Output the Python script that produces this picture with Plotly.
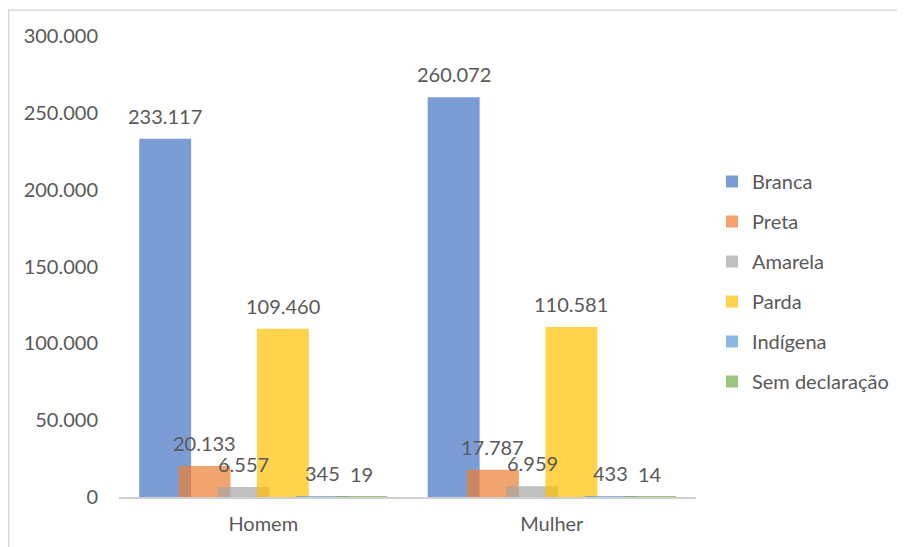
import plotly.graph_objects as go

categories = ["Homem", "Mulher"]
series_names = ["Branca", "Preta", "Amarela", "Parda", "Indígena", "Sem declaração"]
branca = [233117, 260072]
preta = [20133, 17787]
amarela = [6557, 6959]
parda = [109460, 110581]
indigena = [345, 433]
sem_declaracao = [19, 14]
y_ticks = [0, 50000, 100000, 150000, 200000, 250000, 300000]

series_values = [branca, preta, amarela, parda, indigena, sem_declaracao]
colors = ["rgb(68,114,196)", "rgb(237,125,49)", "rgb(165,165,165)",
          "rgb(255,192,0)", "rgb(91,155,213)", "rgb(112,173,71)"]

# page is offset by the 8px body margin
W, H = 897, 539
ml, mt, mb = 111, 28, 50
pw = 578
mr = W - ml - pw
ph = H - mt - mb

bar_w = 0.18
step = 0.136
start = -0.43

FONT = "Lato, 'Open Sans', sans-serif"
TXT = "#595959"

def fmt(v):
    return f"{v:,}".replace(",", ".")

fig = go.Figure()
annotations = []
for i, (name, vals, col) in enumerate(zip(series_names, series_values, colors)):
    off = start + i * step
    fig.add_trace(go.Bar(
        name=name, x=[0, 1], y=vals, offset=off, width=bar_w,
        marker=dict(color=col, line=dict(width=0)), opacity=0.7,
        legendgroup=name, hoverinfo="skip",
    ))
    for j, v in enumerate(vals):
        annotations.append(dict(
            x=j + off + bar_w / 2, y=v, xref="x", yref="y",
            text=fmt(v), showarrow=False, yanchor="bottom", yshift=9,
            font=dict(size=20, color=TXT, family=FONT),
        ))

fig.update_layout(
    width=W, height=H,
    margin=dict(l=ml, r=mr, t=mt, b=mb, pad=0),
    barmode="overlay",
    plot_bgcolor="white", paper_bgcolor="white",
    separators=",.",
    font=dict(family=FONT, size=20, color=TXT),
    xaxis=dict(
        range=[-0.5, 1.5], tickmode="array", tickvals=[0, 1], ticktext=categories,
        showgrid=False, zeroline=False, showline=True, linecolor="#d0d0d0",
        linewidth=2, ticks="outside", ticklen=8, tickcolor="rgba(0,0,0,0)",
        tickfont=dict(size=20, color=TXT),
    ),
    yaxis=dict(
        range=[0, 300000], tickmode="array", tickvals=y_ticks,
        ticktext=[fmt(t) for t in y_ticks], showgrid=False, zeroline=False,
        showline=False, ticks="outside", ticklen=16, tickcolor="rgba(0,0,0,0)",
        tickfont=dict(size=20, color=TXT),
    ),
    legend=dict(
        x=(704 - ml) / pw, xanchor="left", y=(489 - 273.5) / ph,
        yanchor="middle", traceorder="grouped", tracegroupgap=11,
        font=dict(size=20, color=TXT), bgcolor="rgba(0,0,0,0)",
    ),
    annotations=annotations,
    shapes=[dict(
        type="rect", xref="paper", yref="paper",
        x0=(0.5 - ml) / pw, x1=(W + 30 - ml) / pw,
        y0=-(H + 30 - (mt + ph)) / ph, y1=(mt + ph - 2) / ph,
        line=dict(color="#d9d9d9", width=1.5), fillcolor="rgba(0,0,0,0)", layer="below",
    )],
    showlegend=True,
)

fig.write_html("out.html")
